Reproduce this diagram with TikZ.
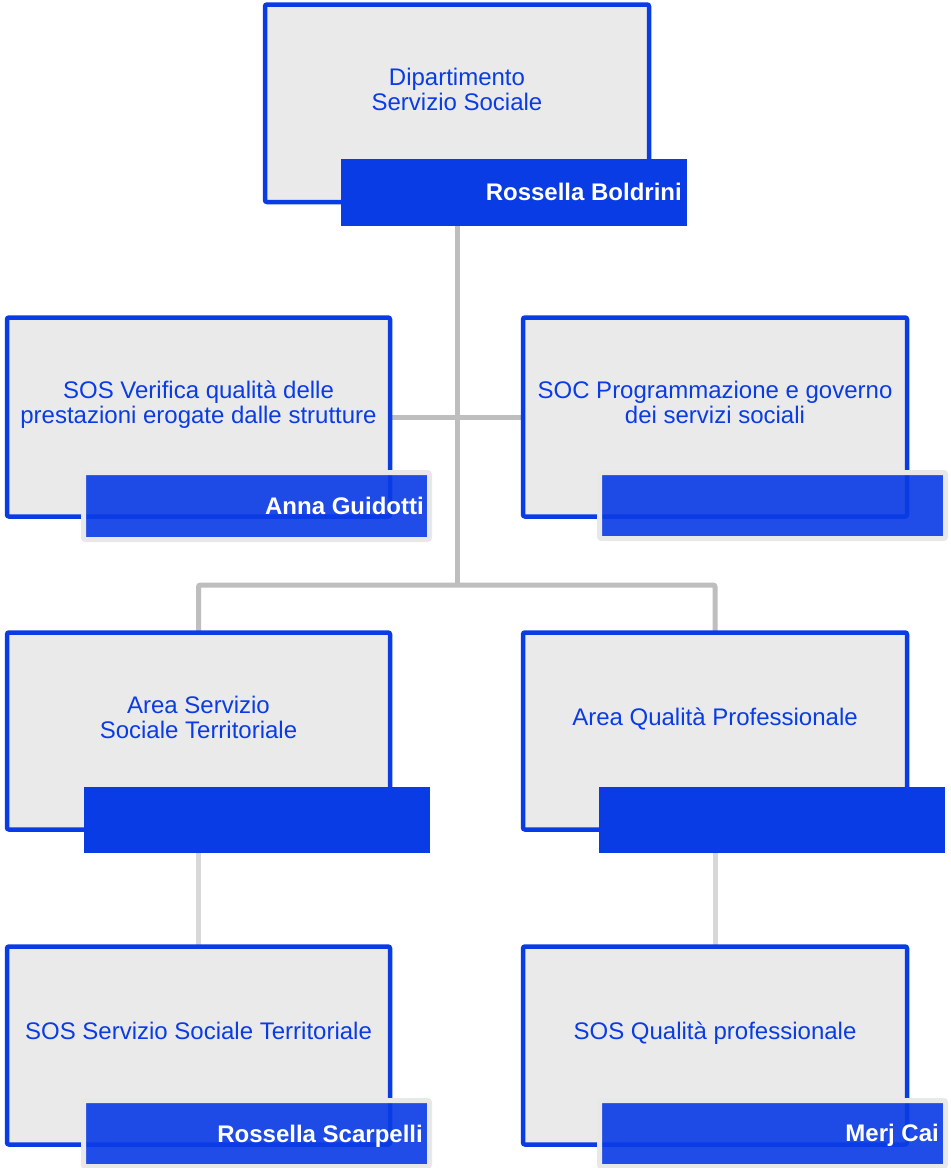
\documentclass[tikz,border=0pt]{standalone}
\usepackage{fontspec}
\setmainfont{Liberation Sans}
\definecolor{myblue}{RGB}{10,60,230}
\definecolor{boxgray}{RGB}{234,234,234}
\definecolor{conngray}{RGB}{190,190,190}
\definecolor{conngraylight}{RGB}{216,216,216}
\definecolor{framegray}{RGB}{232,232,232}
\tikzset{
  orgbox/.style={draw=myblue, fill=boxgray, line width=4.5pt, rounded corners=2pt,
    minimum width=#1, minimum height=199pt, inner sep=0pt},
  solidbar/.style={fill=myblue, minimum width=346pt, minimum height=#1, inner sep=0pt},
  namebar/.style={fill=myblue, fill opacity=0.91, draw=framegray, draw opacity=1,
    line width=5pt, rounded corners=2pt, minimum width=346pt, minimum height=#1, inner sep=0pt},
  boxtext/.style={font=\fontsize{24}{25}\selectfont, text=myblue, anchor=base, inner sep=0pt},
  nametext/.style={font=\fontsize{24}{25}\selectfont\bfseries, text=white, anchor=base east, inner sep=0pt},
  conn/.style={draw=conngray, line width=5pt},
  connlight/.style={draw=conngraylight, line width=5pt},
}
\newcommand{\twolines}[2]{\begin{tabular}[t]{@{}c@{}}#1\\#2\end{tabular}}
\begin{document}
\begin{tikzpicture}[x=1pt,y=-1pt]
\path[use as bounding box, fill=white] (0,0) rectangle (951,1168);
% junction
\coordinate (j1) at (457,585);
% boxes positions (drawn after connectors)
\path (457,103.25) coordinate (c0)
      (198.5,417) coordinate (c1)
      (715,417) coordinate (c2)
      (198.5,731) coordinate (c3)
      (715,731) coordinate (c4)
      (198.5,1045.5) coordinate (c5)
      (715,1045.5) coordinate (c6);
% connectors
\draw[conn] (c0) -- (j1);
\draw[conn] (c1) -- (c2);
\draw[conn, rounded corners=2pt] (c3) |- (j1) -| (c4);
\draw[connlight] (c3) -- (c5);
\draw[connlight] (c4) -- (c6);
% boxes
\node[orgbox=384pt, minimum height=197.5pt] (b0) at (c0) {};
\node[orgbox=383pt] (b1) at (c1) {};
\node[orgbox=384pt] (b2) at (c2) {};
\node[orgbox=383pt, minimum height=197pt] (b3) at (c3) {};
\node[orgbox=384pt, minimum height=197pt] (b4) at (c4) {};
\node[orgbox=383pt, minimum height=198pt] (b5) at (c5) {};
\node[orgbox=384pt, minimum height=198pt] (b6) at (c6) {};
% name bars
\node[solidbar=67pt] (n0) at (514,192.5) {};
\node[namebar=67pt] (n1) at (256.5,506) {};
\node[namebar=66pt] (n2) at (772.5,505.5) {};
\node[solidbar=66pt] (n3) at (257,820) {};
\node[solidbar=66pt] (n4) at (772,820) {};
\node[namebar=66pt] (n5) at (256.5,1133.5) {};
\node[namebar=66pt] (n6) at (772.5,1133.5) {};
% box texts
\node[boxtext] (t0) at (457,85) {\twolines{Dipartimento}{Servizio Sociale}};
\node[boxtext] (t1) at (198.5,398.5) {\twolines{SOS Verifica qualità delle}{prestazioni erogate dalle strutture}};
\node[boxtext] (t2) at (715,398) {\twolines{SOC Programmazione e governo}{dei servizi sociali}};
\node[boxtext] (t3) at (198.5,713.5) {\twolines{Area Servizio}{Sociale Territoriale}};
\node[boxtext] (t4) at (715,725) {Area Qualità Professionale};
\node[boxtext] (t5) at (198.5,1039) {SOS Servizio Sociale Territoriale};
\node[boxtext] (t6) at (715,1039) {SOS Qualità professionale};
% names
\node[nametext] (m0) at (682,200) {Rossella Boldrini};
\node[nametext] (m1) at (424,514) {Anna Guidotti};
\node[nametext] (m5) at (423,1142) {Rossella Scarpelli};
\node[nametext] (m6) at (939,1141) {Merj Cai};
\end{tikzpicture}
\end{document}
